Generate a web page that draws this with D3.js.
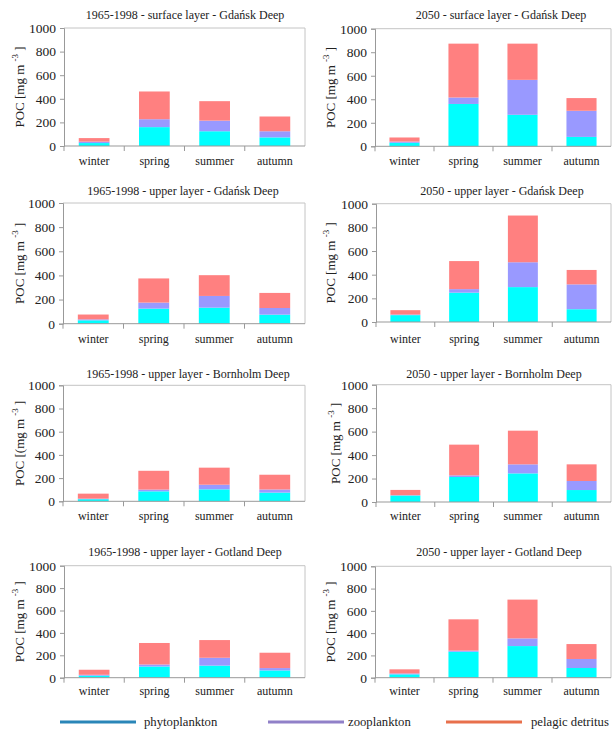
<!DOCTYPE html>
<html><head><meta charset="utf-8">
<script src="https://cdn.jsdelivr.net/npm/d3@7"></script>
<style>body{margin:0;background:#fff}svg{display:block}text{font-family:"Liberation Serif"}</style>
</head><body>
<script>
// ---- data ----
const seasons = ["winter", "spring", "summer", "autumn"];
const panelTitles = [
  "1965-1998 - surface layer - Gdańsk Deep",
  "2050 - surface layer - Gdańsk Deep",
  "1965-1998 - upper layer - Gdańsk Deep",
  "2050 - upper layer - Gdańsk Deep",
  "1965-1998 - upper layer - Bornholm Deep",
  "2050 - upper layer - Bornholm Deep",
  "1965-1998 - upper layer - Gotland Deep",
  "2050 - upper layer - Gotland Deep"
];
const yLabelPrefix = ["POC [mg m", "POC [mg m", "POC [mg m", "POC [mg m", "POC [(mg m", "POC [mg m", "POC [mg m", "POC [mg m"];
const seriesNames = ["phytoplankton", "zooplankton", "pelagic detritus"];
const phytoplankton = [
  [25, 160, 125, 73], [30, 360, 268, 80],
  [28, 125, 133, 75], [58, 248, 295, 108],
  [18, 86, 103, 75], [55, 213, 244, 102],
  [18, 100, 108, 65], [30, 233, 284, 87]
];
const zooplankton = [
  [12, 67, 90, 52], [10, 55, 297, 222],
  [8, 50, 97, 55], [5, 30, 210, 210],
  [5, 15, 40, 27], [3, 14, 77, 77],
  [8, 18, 70, 21], [8, 10, 69, 81]
];
const detritus = [
  [30, 235, 165, 125], [35, 458, 308, 108],
  [40, 200, 172, 125], [37, 237, 395, 122],
  [43, 162, 147, 127], [45, 262, 287, 142],
  [45, 192, 158, 137], [37, 281, 348, 134]
];
const yTicks = [0, 200, 400, 600, 800, 1000];

// ---- layout / style ----
const layout = [
  {x0: 64, x1: 305, top: 28, zero: 146, ty: 19, tx: 185, lx: 20, cy: 165},
  {x0: 375, x1: 611, top: 28.7, zero: 146.3, ty: 19, tx: 501, lx: 331, cy: 165},
  {x0: 63, x1: 305, top: 203, zero: 323.7, ty: 195, tx: 183, lx: 20, cy: 343},
  {x0: 376, x1: 611, top: 203.7, zero: 322, ty: 195, tx: 502, lx: 331, cy: 343},
  {x0: 63, x1: 305, top: 385.3, zero: 501.3, ty: 378, tx: 188, lx: 20, cy: 520},
  {x0: 376, x1: 611, top: 384.7, zero: 502, ty: 378, tx: 494, lx: 336, cy: 520},
  {x0: 64, x1: 305, top: 565.7, zero: 677.7, ty: 556, tx: 185, lx: 20, cy: 695},
  {x0: 375, x1: 611, top: 566.3, zero: 677.7, ty: 556, tx: 499, lx: 331, cy: 695}
];
const barColors = ["#00ffff", "#9999ff", "#ff8080"];
const legendColors = ["#2a86b8", "#9080c8", "#e8704c"];
const font = "Liberation Serif";

const svg = d3.select("body").append("svg").attr("width", 612).attr("height", 729)
  .attr("font-family", font);

const stack = d3.stack().keys([0, 1, 2]);

layout.forEach((L, i) => {
  const g = svg.append("g");
  const x = d3.scaleBand().domain(seasons).range([L.x0, L.x1]).paddingInner(0.49).paddingOuter(0.245);
  const xb = d3.scaleBand().domain(seasons).range([L.x0, L.x1]);
  const y = d3.scaleLinear().domain([0, 1000]).range([L.zero, L.top]);

  // frame top/right
  g.append("path").attr("d", `M${L.x0},${L.top}H${L.x1}V${L.zero}`)
    .attr("fill", "none").attr("stroke", "#c4c4c4").attr("stroke-width", 1);

  const rows = seasons.map((s, j) => ({0: phytoplankton[i][j], 1: zooplankton[i][j], 2: detritus[i][j], s}));
  const st = stack(rows);
  st.forEach((layer, k) => {
    g.selectAll(null).data(layer).enter().append("rect")
      .attr("x", d => x(d.data.s))
      .attr("width", x.bandwidth())
      .attr("y", d => y(d[1]))
      .attr("height", d => y(d[0]) - y(d[1]))
      .attr("fill", barColors[k]);
  });

  // y axis
  const ya = d3.axisLeft(y).tickValues(yTicks).tickFormat(d3.format("d")).tickSize(4).tickPadding(4);
  const yg = g.append("g").attr("transform", `translate(${L.x0},0)`).call(ya).attr("font-family", font);
  yg.select(".domain").attr("stroke", "#999");
  yg.selectAll(".tick line").attr("stroke", "#999");
  yg.selectAll(".tick text").attr("font-size", 13.5).attr("fill", "#222");

  // x axis
  g.append("line").attr("x1", L.x0).attr("x2", L.x1).attr("y1", L.zero).attr("y2", L.zero).attr("stroke", "#999");
  seasons.forEach((s, j) => {
    g.append("line").attr("x1", xb(s)).attr("x2", xb(s)).attr("y1", L.zero).attr("y2", L.zero + 5).attr("stroke", "#999");
  });
  g.selectAll(null).data(seasons).enter().append("text")
    .attr("x", d => x(d) + x.bandwidth() / 2).attr("y", L.cy)
    .attr("text-anchor", "middle").attr("font-size", 12).attr("fill", "#222").text(d => d);

  // title
  g.append("text").attr("x", L.tx).attr("y", L.ty).attr("text-anchor", "middle")
    .attr("font-size", 12).attr("fill", "#222").text(panelTitles[i]);

  // y label
  const cyl = (L.top + L.zero) / 2;
  const t = g.append("text").attr("transform", `translate(${L.lx + 4},${cyl}) rotate(-90)`)
    .attr("text-anchor", "middle").attr("font-size", 13).attr("fill", "#222");
  t.append("tspan").text(yLabelPrefix[i] + " ");
  t.append("tspan").attr("font-size", 9).attr("dy", -6).text("-3");
  t.append("tspan").attr("dy", 6).text(" ]");
});

// legend
const legendLineX = [60, 268, 446];
const legendTextX = [144, 348, 531];
seriesNames.forEach((n, k) => {
  svg.append("line").attr("x1", legendLineX[k]).attr("x2", legendLineX[k] + 76).attr("y1", 722).attr("y2", 722)
    .attr("stroke", legendColors[k]).attr("stroke-width", 3);
  svg.append("text").attr("x", legendTextX[k]).attr("y", 726).attr("font-size", 12.7).attr("fill", "#222").text(n);
});
</script>
</body></html>
